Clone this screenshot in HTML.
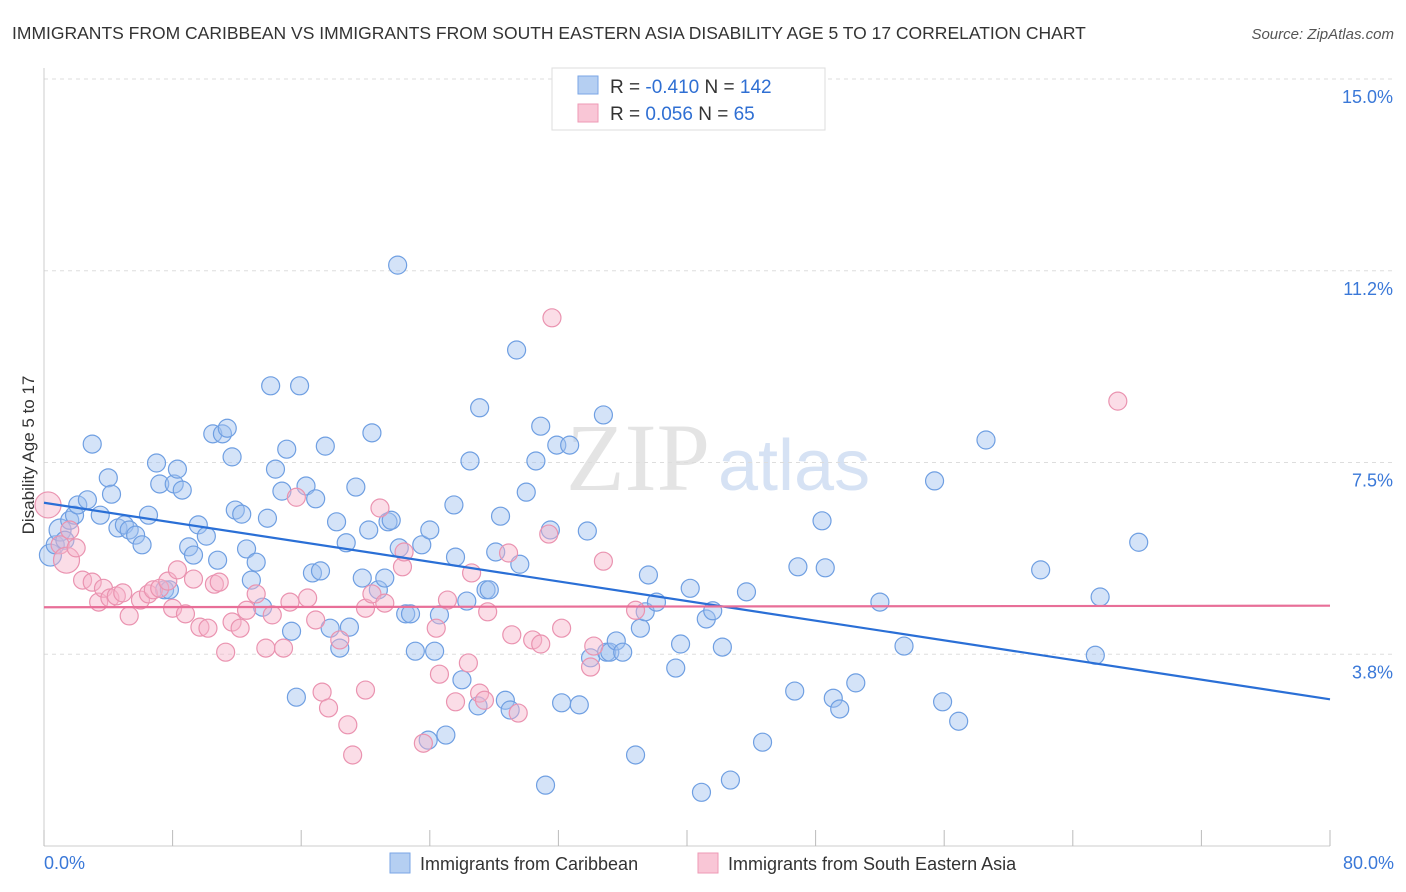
<!DOCTYPE html>
<html><head><meta charset="utf-8"><style>
body{margin:0;background:#fff;font-family:"Liberation Sans",sans-serif;}
svg{display:block}
</style></head><body>
<svg id="chart" width="1406" height="892">
<text x="12" y="39" font-size="17.5" fill="#333">IMMIGRANTS FROM CARIBBEAN VS IMMIGRANTS FROM SOUTH EASTERN ASIA DISABILITY AGE 5 TO 17 CORRELATION CHART</text>
<text x="1394" y="39" font-size="15" fill="#555" text-anchor="end" font-style="italic">Source: ZipAtlas.com</text>
<text x="710" y="490" font-size="96" fill="#e4e4e4" font-family="Liberation Serif,serif" text-anchor="end">ZIP</text>
<text x="718" y="490" font-size="72" fill="#d6e2f4">atlas</text>
<g id="grid"></g>
<g id="axes"></g>
<g id="points"></g>
<g id="lines"></g>
<text transform="translate(34,455) rotate(-90)" font-size="17" fill="#333" text-anchor="middle">Disability Age 5 to 17</text>
<text x="44" y="869" font-size="18" fill="#3a78d8">0.0%</text>
<text x="1394" y="869" font-size="18" fill="#3a78d8" text-anchor="end">80.0%</text>
<g>
<rect x="552" y="68" width="273" height="62" fill="#fff" stroke="#ddd"/>
<rect x="578" y="76" width="20" height="18" fill="#b5cff2" stroke="#7aa6e6"/>
<rect x="578" y="104" width="20" height="18" fill="#f9c6d6" stroke="#ee9ab5"/>
<text x="610" y="93" font-size="19" fill="#333">R = <tspan fill="#2f6fd3">-0.410</tspan>   N = <tspan fill="#2f6fd3">142</tspan></text>
<text x="610" y="120" font-size="19" fill="#333">R =  <tspan fill="#2f6fd3">0.056</tspan>   N =  <tspan fill="#2f6fd3"> 65</tspan></text>
</g>
<g>
<rect x="390" y="853" width="20" height="20" fill="#b5cff2" stroke="#7aa6e6"/>
<text x="420" y="870" font-size="18" fill="#333">Immigrants from Caribbean</text>
<rect x="698" y="853" width="20" height="20" fill="#f9c6d6" stroke="#ee9ab5"/>
<text x="728" y="870" font-size="18" fill="#333">Immigrants from South Eastern Asia</text>
</g>
</svg>
<script>
const yTicks=[3.75,7.5,11.25,15];
const yTickLabels=["3.8%","7.5%","11.2%","15.0%"];
const xTicks=[0,8,16,24,32,40,48,56,64,72,80];
const blueX=[0.4,0.7,1.0,1.3,1.6,1.9,2.1,2.7,3.0,3.5,4.0,4.2,4.6,5.0,5.3,5.7,6.1,6.5,7.0,7.2,7.5,7.8,8.1,8.3,8.6,9.0,9.3,9.6,10.1,10.5,10.8,11.1,11.4,11.7,11.9,12.3,12.6,12.9,13.2,13.6,13.9,14.1,14.4,14.8,15.1,15.4,15.7,15.9,16.3,16.7,16.9,17.2,17.5,17.8,18.2,18.4,18.8,19.0,19.4,19.8,20.2,20.4,20.8,21.2,21.4,21.6,22.0,22.1,22.5,22.8,23.1,23.5,23.9,24.0,24.3,24.6,25.0,25.5,25.6,26.0,26.3,26.5,27.0,27.1,27.5,27.7,28.1,28.4,28.7,29.0,29.4,29.6,30.0,30.6,30.9,31.2,31.5,31.9,32.2,32.7,33.3,33.8,34.0,34.8,35.0,35.2,35.6,36.0,36.8,37.1,37.4,37.6,38.1,39.3,39.6,40.2,40.9,41.2,41.6,42.2,42.7,43.7,44.7,46.7,46.9,48.4,48.6,49.1,49.5,50.5,52.0,53.5,55.4,55.9,56.9,58.6,62.0,65.4,65.7,68.1];
const blueY=[5.69,5.89,6.18,5.98,6.37,6.47,6.67,6.77,7.86,6.47,7.20,6.88,6.22,6.28,6.18,6.08,5.89,6.47,7.49,7.08,5.01,5.01,7.08,7.37,6.96,5.85,5.69,6.28,6.06,8.06,5.59,8.06,8.17,7.61,6.57,6.49,5.81,5.20,5.55,4.67,6.41,9.00,7.37,6.94,7.76,4.20,2.91,9.00,7.04,5.34,6.79,5.38,7.82,4.26,6.34,3.87,5.93,4.28,7.02,5.24,6.18,8.08,5.01,5.24,6.34,6.37,11.36,5.83,4.54,4.54,3.81,5.89,2.07,6.18,3.81,4.52,2.17,6.67,5.65,3.25,4.79,7.53,2.74,8.57,5.01,5.01,5.75,6.45,2.85,2.66,9.70,5.51,6.92,7.53,8.21,1.19,6.18,7.84,2.80,7.84,2.76,6.16,3.68,8.43,3.79,3.79,4.01,3.79,1.78,4.26,4.58,5.30,4.77,3.48,3.95,5.04,1.05,4.44,4.60,3.89,1.29,4.97,2.03,3.03,5.46,6.36,5.44,2.89,2.68,3.19,4.77,3.91,7.14,2.82,2.44,7.94,5.40,3.73,4.87,5.94];
const pinkX=[0.25,1.0,1.4,1.6,2.0,2.4,3.0,3.4,3.7,4.1,4.5,4.9,5.3,6.0,6.5,6.8,7.2,7.7,8.0,8.3,8.8,9.3,9.7,10.2,10.6,10.9,11.3,11.7,12.2,12.6,13.2,13.8,14.2,14.9,15.3,15.7,16.4,16.9,17.3,17.7,18.4,18.9,19.2,20.0,20.0,20.4,20.9,21.2,22.3,22.4,23.6,24.4,24.6,25.1,25.6,26.4,26.6,27.1,27.4,27.6,28.9,29.1,29.5,30.4,30.9,31.4,31.6,32.2,34.0,34.2,34.8,36.8,66.8];
const pinkY=[6.67,5.89,5.59,6.18,5.83,5.20,5.16,4.77,5.04,4.85,4.89,4.95,4.50,4.81,4.93,5.01,5.04,5.18,4.65,5.40,4.54,5.22,4.28,4.26,5.12,5.16,3.79,4.38,4.26,4.61,4.93,3.87,4.52,3.87,4.77,6.82,4.85,4.42,3.01,2.70,4.03,2.37,1.78,3.05,4.65,4.93,6.61,4.75,5.46,5.75,2.01,4.26,3.36,4.81,2.82,3.58,5.34,2.99,2.85,4.58,5.73,4.13,2.60,4.03,3.95,6.10,10.33,4.26,3.50,3.91,5.57,4.61,8.70];
const NS="http://www.w3.org/2000/svg";
const X0=44,X1=1330,Y0=846,Y15=79;
function sx(v){return X0+(X1-X0)*v/80;}
function sy(v){return Y0-(Y0-Y15)*v/15;}
function mk(t,a,parent){const e=document.createElementNS(NS,t);for(const k in a)e.setAttribute(k,a[k]);parent.appendChild(e);return e;}
const grid=document.getElementById('grid'),axes=document.getElementById('axes'),pts=document.getElementById('points'),lines=document.getElementById('lines');
yTicks.forEach((t,i)=>{
 const l=mk('line',{x1:X0,x2:1394,y1:sy(t),y2:sy(t),stroke:'#ddd','stroke-dasharray':'4,4'},grid);
 
 
 const tx=mk('text',{x:1393,y:sy(t)+24,'font-size':18,fill:'#3a78d8','text-anchor':'end'},grid);
 tx.textContent=yTickLabels[i];
 
 
});
const ya=mk('line',{x1:X0,x2:X0,y1:68,y2:Y0,stroke:'#ccc'},axes);


const xa=mk('line',{x1:X0,x2:X1,y1:Y0,y2:Y0,stroke:'#ccc'},axes);


xTicks.forEach(t=>{
 const l=mk('line',{x1:sx(t),x2:sx(t),y1:830,y2:Y0,stroke:'#bbb'},axes);
 
 
});
function drawSeries(xs,ys,fill,stroke,name){
 xs.forEach((x,i)=>{
  const r=(x<1.6&&(i===0||i===2))?(name==='pink-point'?13:11):9;
  const c=mk('circle',{cx:sx(x),cy:sy(ys[i]),r:r,fill:fill,stroke:stroke,'stroke-width':1.2},pts);
  
  
 });
}
drawSeries(blueX,blueY,'rgba(160,194,240,0.45)','#6f9fe2','blue-point');
drawSeries(pinkX,pinkY,'rgba(246,180,202,0.45)','#ea93b0','pink-point');
function fit(xs,ys){const n=xs.length;let mx=0,my=0;for(let i=0;i<n;i++){mx+=xs[i];my+=ys[i];}mx/=n;my/=n;let a=0,b=0;for(let i=0;i<n;i++){a+=(xs[i]-mx)*(ys[i]-my);b+=(xs[i]-mx)**2;}const s=a/b;return [my-s*mx,s];}
function trend(xs,ys,col,name){const [c,s]=fit(xs,ys);const l=mk('line',{x1:sx(0),y1:sy(c),x2:sx(80),y2:sy(c+s*80),stroke:col,'stroke-width':2.2},lines);
 
 }
trend(blueX,blueY,'#2a6fd6','blue-trend-line');
trend(pinkX,pinkY,'#e86f98','pink-trend-line');
</script>
</body></html>
